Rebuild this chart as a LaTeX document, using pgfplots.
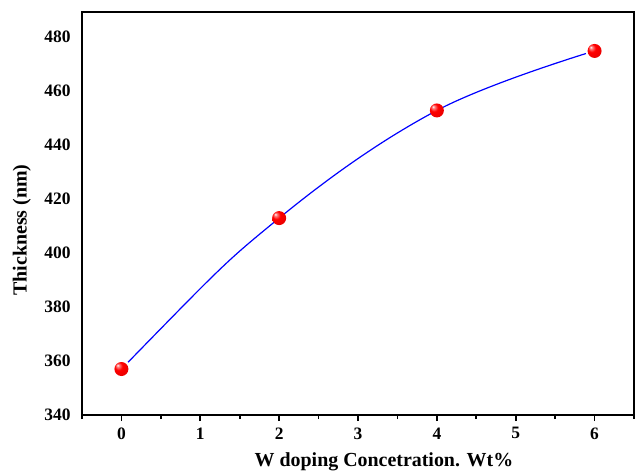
\documentclass[border=0pt]{standalone}
\usepackage{fontspec}
\setmainfont{Liberation Serif}
\usepackage{pgfplots}
\pgfplotsset{compat=1.18}
\pgfdeclareradialshading{redball}{\pgfpoint{-14bp}{14bp}}{%
  color(0bp)=(white);
  color(5bp)=(white!50!red);
  color(14bp)=(red);
  color(30bp)=(red!92!black);
  color(50bp)=(red!80!black)}
\pgfdeclareplotmark{redball}{%
  \pgfpathcircle{\pgfpointorigin}{\pgfplotmarksize}%
  \pgfshadepath{redball}{0}%
  \pgfusepath{discard}}
\begin{document}
\begin{tikzpicture}
\begin{axis}[
  scale only axis,
  width=552bp, height=403bp,
  xmin=-0.5, xmax=6.5, ymin=340, ymax=489,
  xtick={0,1,2,3,4,5,6},
  minor xtick={-0.5,0.5,1.5,2.5,3.5,4.5,5.5,6.5},
  ytick={340,360,...,480},
  axis line style={line width=2.1pt},
  xtick style={line width=1.8pt, black},
  minor tick style={line width=1.8pt, black},
  major tick length=6bp, minor tick length=4bp,
  ytick style={draw=none},
  xtick pos=bottom, ytick pos=left,
  tick align=outside,
  /pgf/number format/assume math mode=true,
  ticklabel style={font=\fontsize{17.5}{19}\selectfont\bfseries},
  xticklabel style={yshift=-3bp},
  yticklabel style={xshift=-2bp},
  xlabel={W doping Concetration. Wt\%},
  ylabel={Thickness (nm)},
  label style={font=\fontsize{20}{22}\selectfont\bfseries},
  xlabel style={at={(axis description cs:0.547,-0.1166)}, anchor=center},
  ylabel style={at={(axis description cs:-0.109,0.459)}, anchor=center},
  clip=false,
]
\coordinate (bl) at (rel axis cs:0,0);
\coordinate (tr) at (rel axis cs:1,1);
\addplot[blue, line width=1.2pt, smooth, tension=0.6, shorten <=9.5bp, shorten >=9.5bp]
  coordinates {(0,357) (2,412.8) (4,452.6) (6,474.6)};
\addplot[only marks, mark=redball, mark size=7bp]
  coordinates {(0,357) (2,412.8) (4,452.6) (6,474.6)};
\end{axis}
\pgfresetboundingbox
\path ([shift={(-82bp,-59bp)}]bl) rectangle ([shift={(3bp,12bp)}]tr);
\end{tikzpicture}
\end{document}
